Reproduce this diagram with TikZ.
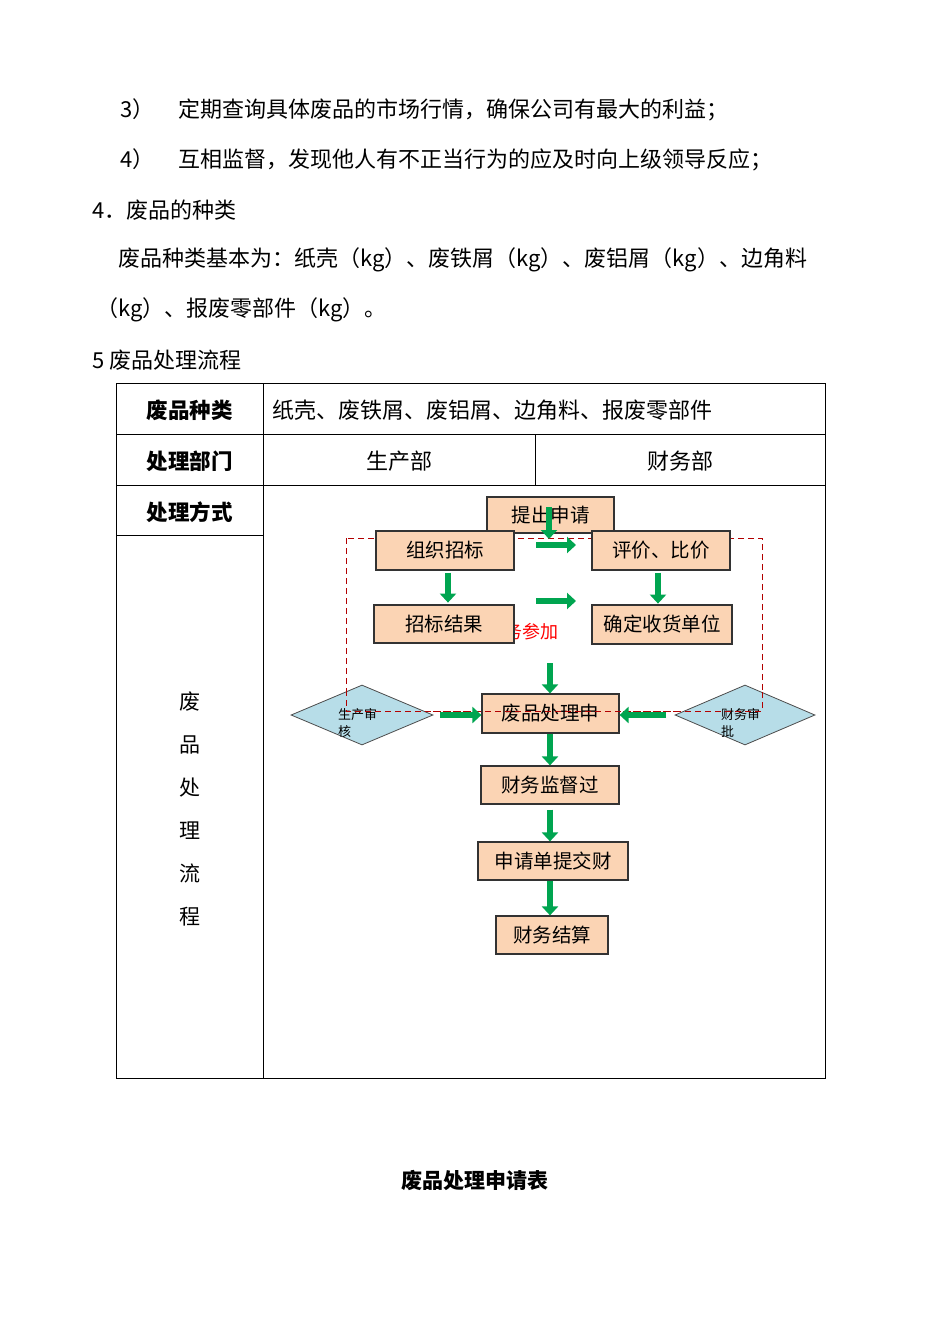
\documentclass[tikz,border=0pt]{standalone}
\usepackage{fontspec}
\setmainfont{Noto Sans CJK SC}
\usetikzlibrary{shapes.geometric,arrows.meta}
\definecolor{peach}{HTML}{FBD4B4}
\definecolor{dia}{HTML}{B7DDE8}
\definecolor{garr}{HTML}{00A550}
\tikzset{
 txt/.style={font=\fontsize{22}{26}\selectfont, anchor=west, inner sep=0},
 bx/.style={draw=black!80, fill=peach, line width=1.2pt, inner sep=0, font=\fontsize{19.5}{22}\selectfont},
 dm/.style={diamond, draw=black!70, fill=dia, line width=0.8pt, inner sep=0, font=\fontsize{13}{15}\selectfont},
 ga/.style={draw=garr, line width=5.5pt, -{Triangle[width=16pt,length=9pt]}},
 hd/.style={font=\bfseries\fontsize{21.5}{24}\selectfont},
 cl/.style={font=\fontsize{22}{24}\selectfont}
}
\begin{document}
\begin{tikzpicture}[x=1pt,y=-1pt]
\useasboundingbox (0,0) rectangle (950,1344);
\node[txt] (l1) at (120,110) {3）\hspace{24pt}定期查询具体废品的市场行情，确保公司有最大的利益；};
\node[txt] (l2) at (120,160) {4）\hspace{24pt}互相监督，发现他人有不正当行为的应及时向上级领导反应；};
\node[txt] (l3) at (92,210) {4．废品的种类};
\node[txt] (l4) at (118,260) {废品种类基本为：纸壳（kg）、废铁屑（kg）、废铝屑（kg）、边角料};
\node[txt] (l5) at (96,310) {（kg）、报废零部件（kg）。};
\node[txt] (l6) at (92,360) {5 废品处理流程};
% table
\draw[line width=0.8pt] (116,383) rectangle (825,1078);
\draw[line width=0.8pt] (116,434) -- (825,434) (116,485) -- (825,485) (116,535) -- (263,535)
  (263,383) -- (263,1078) (535,434) -- (535,485);
\node[hd] (h1) at (189.5,410) {废品种类};
\node[hd] (h2) at (189.5,461) {处理部门};
\node[hd] (h3) at (189.5,512) {处理方式};
\node[txt] (c1) at (272,410) {纸壳、废铁屑、废铝屑、边角料、报废零部件};
\node[cl] (c2) at (399,461) {生产部};
\node[cl] (c3) at (680,461) {财务部};
\node[cl, align=center, font=\fontsize{21}{43}\selectfont] (v) at (189.5,809) {废\\品\\处\\理\\流\\程};
% red text
\node[font=\fontsize{18}{20}\selectfont, text=red, anchor=east, inner sep=0] (rt) at (559,632) {务参加};
% dashed
\draw[red!70!black, dashed, dash pattern=on 6pt off 4pt, line width=0.9pt] (346,538) rectangle (762,711);
% boxes
\node[bx, minimum width=127pt, minimum height=36pt] (b0) at (550.5,515) {提出申请};
\node[bx, minimum width=138pt, minimum height=39pt] (b1) at (445,550.5) {组织招标};
\node[bx, minimum width=138pt, minimum height=39pt] (b2) at (661,550.5) {评价、比价};
\node[bx, minimum width=140pt, minimum height=38pt] (b3) at (444,624) {招标结果};
\node[bx, minimum width=140pt, minimum height=39pt] (b4) at (662,624.5) {确定收货单位};
\node[bx, minimum width=137pt, minimum height=39pt] (b5) at (550.5,713.5) {废品处理申};
\node[bx, minimum width=138pt, minimum height=38pt] (b6) at (550,785) {财务监督过};
\node[bx, minimum width=150pt, minimum height=38pt] (b7) at (553,861) {申请单提交财};
\node[bx, minimum width=112pt, minimum height=38pt] (b8) at (552,935) {财务结算};
\node[dm, minimum width=142pt, minimum height=60pt] (d1) at (362,715) {};
\node[font=\fontsize{13}{17}\selectfont, align=left, anchor=north west, inner sep=0] (d1t) at (338,708) {生产审\\核};
\node[dm, minimum width=140pt, minimum height=60pt] (d2) at (745,715) {};
\node[font=\fontsize{13}{17}\selectfont, align=left, anchor=north west, inner sep=0] (d2t) at (721,708) {财务审\\批};
\draw[red!70!black, dash pattern=on 6pt off 4pt, line width=0.9pt] (346,690) -- (346,711) -- (762,711) -- (762,690);
% arrows
\coordinate (a1s) at (549,507); \coordinate (a1e) at (549,539);
\draw[ga] (a1s) -- (a1e);
\coordinate (a2s) at (536,545); \coordinate (a2e) at (576,545);
\draw[ga] (a2s) -- (a2e);
\draw[ga] (b1.south -| 448,0) ++(0,2) -- ++(0,30);
\coordinate (a4s) at (536,601); \coordinate (a4e) at (576,601);
\draw[ga] (a4s) -- (a4e);
\draw[ga] (b2.south -| 658,0) ++(0,2) -- ++(0,31);
\coordinate (a6s) at (550,663);
\draw[ga] (a6s) -- (b5.north -| a6s);
\draw[ga] (440,715) -- (b5.west |- 0,715);
\draw[ga] (666,715) -- (b5.east |- 0,715);
\draw[ga] (b5.south -| 550,0) -- (b6.north -| 550,0);
\draw[ga] (b6.south -| 550,0) ++(0,5) -- (b7.north -| 550,0);
\draw[ga] (b7.south -| 550,0) -- (b8.north -| 550,0);
\node[font=\bfseries\fontsize{21}{24}\selectfont] (title) at (475,1180) {废品处理申请表};
\end{tikzpicture}
\end{document}
